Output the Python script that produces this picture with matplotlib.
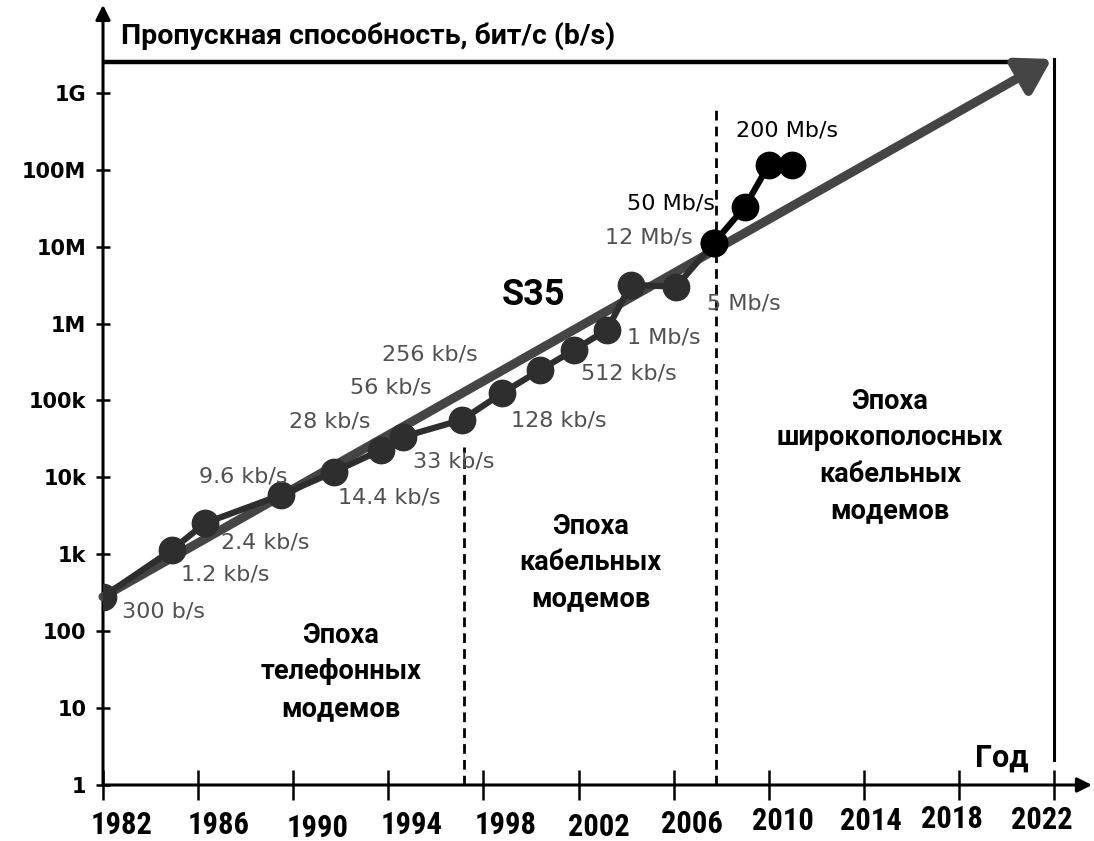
import matplotlib
import numpy as np
from matplotlib import pyplot as plt
from matplotlib.transforms import ScaledTranslation

matplotlib.use('Agg')

# данные модемов (серые точки)
years_old = [1982, 1984.9, 1986.3, 1989.5, 1991.7, 1993.7, 1994.6, 1997.1,
             1998.8, 2000.4, 2001.8, 2003.2, 2004.2, 2006.1]
speed_old = [280, 1.14e3, 2.55e3, 5.9e3, 1.17e4, 2.27e4, 3.35e4, 5.6e4,
             1.25e5, 2.5e5, 4.5e5, 8.3e5, 3.2e6, 3.0e6]
# широкополосные кабельные модемы (чёрные точки)
years_new = [2007.7, 2009.0, 2010.0, 2011.0]
speed_new = [1.12e7, 3.3e7, 1.15e8, 1.15e8]

# тренд S35
trend_years = [1982, 2021.9]
trend_speed = [280, 2.75e9]

# подписи: (серия, индекс точки, текст, смещение в пикселях, выравнивание)
labels = [
    ("old", 0, "300 b/s", (19, -15), "left"),
    ("old", 1, "1.2 kb/s", (9, -25), "left"),
    ("old", 2, "2.4 kb/s", (16, -20), "left"),
    ("old", 3, "9.6 kb/s", (-82, 18), "left"),
    ("old", 4, "14.4 kb/s", (4, -25), "left"),
    ("old", 5, "28 kb/s", (-92, 28), "left"),
    ("old", 6, "56 kb/s", (-53, 49), "left"),
    ("old", 6, "33 kb/s", (10, -25), "left"),
    ("old", 7, "256 kb/s", (-80, 65), "left"),
    ("old", 8, "128 kb/s", (9, -28), "left"),
    ("old", 10, "512 kb/s", (7, -23), "left"),
    ("old", 11, "1 Mb/s", (20, -8), "left"),
    ("old", 13, "5 Mb/s", (31, -17), "left"),
    ("new", 0, "12 Mb/s", (-21, 5), "right"),
    ("new", 1, "50 Mb/s", (-30, 3), "right"),
    ("new", 2, "200 Mb/s", (-33, 35), "left"),
]

year_ticks = [1982, 1986, 1990, 1994, 1998, 2002, 2006, 2010, 2014, 2018, 2022]
# сдвиг подписей годов относительно делений (пиксели), как в оригинале
label_dx = [19, 21, 24, 23, 22, 20, 18, 14, 7, -7, -12]
label_dy = [40, 40, 43, 40, 40, 42, 39, 36, 36, 34, 35]

speed_ticks = [1, 10, 100, 1e3, 1e4, 1e5, 1e6, 1e7, 1e8, 1e9]
speed_names = ["1", "10", "100", "1k", "10k", "100k", "1M", "10M", "100M", "1G"]

era_bounds = [1997.2, 2007.8]
era_tops = [10 ** 4.40, 10 ** 8.84]

fig = plt.figure(figsize=(10.94, 8.41), dpi=100)
ax = fig.add_axes([103 / 1094, 1 - 785 / 841, 951 / 1094, 723 / 841])
ax.set_yscale('log')
ax.set_xlim(1982, 2022)
ax.set_ylim(1, 10 ** 9.40)
for s in ax.spines.values():
    s.set_visible(False)

narrow = ['Roboto Condensed', 'Liberation Sans Narrow', 'DejaVu Sans']
bold_font = ['Roboto', 'DejaVu Sans']

# оси со стрелками
ax.annotate("", xy=(0, 1.079), xytext=(0, 0), xycoords='axes fraction',
            arrowprops=dict(arrowstyle='-|>', lw=2.2, color='black',
                            mutation_scale=22, shrinkA=0, shrinkB=0))
ax.annotate("", xy=(1.040, 0), xytext=(0, 0), xycoords='axes fraction',
            arrowprops=dict(arrowstyle='-|>', lw=2.2, color='black',
                            mutation_scale=22, shrinkA=0, shrinkB=0))
ax.plot([0, 0.963], [1, 1], transform=ax.transAxes, color='black', lw=3.2,
        clip_on=False, solid_capstyle='butt')
ax.plot([1, 1], [1.004, 0.034], transform=ax.transAxes, color='black', lw=2.2,
        clip_on=False)

ax.set_xticks(year_ticks)
ax.set_xticklabels([])
for yr, dx, dy in zip(year_ticks, label_dx, label_dy):
    tr = ax.get_xaxis_transform() + ScaledTranslation(dx / 100, -dy / 100, fig.dpi_scale_trans)
    ax.text(yr, 0, str(yr), transform=tr, ha='center', va='center', fontsize=22,
            fontweight='bold', family=narrow)
ax.set_yticks(speed_ticks)
ax.set_yticklabels(speed_names, fontsize=15, fontweight='bold')
ax.yaxis.set_minor_locator(matplotlib.ticker.NullLocator())
ax.tick_params(axis='x', direction='inout', length=22, width=1.8)
ax.tick_params(axis='y', direction='inout', length=10, width=1.8, pad=7)

# границы эпох
for xb, top in zip(era_bounds, era_tops):
    ax.vlines(xb, 1, top, colors='black', linestyles=(0, (3.5, 2.2)), lw=2)

# тренд
ax.annotate("", xy=(trend_years[1], trend_speed[1]),
            xytext=(trend_years[0], trend_speed[0]), xycoords='data',
            arrowprops=dict(arrowstyle='-|>,head_length=0.9,head_width=0.55', lw=6.5,
                            color='#454545', mutation_scale=22, shrinkA=0, shrinkB=0),
            annotation_clip=False)

ax.plot(years_old + years_new[:1], speed_old + speed_new[:1], color='#2e2e2e', lw=4.5,
        marker='o', markersize=19, zorder=3)
ax.plot(years_new, speed_new, color='black', lw=4.5, marker='o', markersize=19, zorder=4)

series = {"old": (years_old, speed_old), "new": (years_new, speed_new)}
for name, i, text, off, ha in labels:
    xs, ys = series[name]
    col = 'black' if text in ("50 Mb/s", "200 Mb/s") else '#505050'
    ax.annotate(text, xy=(xs[i], ys[i]), xytext=off, textcoords='offset pixels',
                ha=ha, va='center', fontsize=16, color=col, zorder=5)

ax.text(2000.1, 10 ** 6.37, "S35", fontsize=26, fontweight='bold', ha='center', va='center',
        family=bold_font, fontstretch='normal')

era_font = dict(fontsize=19.5, fontweight='bold', ha='center', va='center',
                family=bold_font, fontstretch='normal', linespacing=1.45)
ax.text(1992.0, 10 ** 1.47, "Эпоха\nтелефонных\nмодемов", **era_font)
ax.text(2002.5, 10 ** 2.89, "Эпоха\nкабельных\nмодемов", **era_font)
ax.text(2015.1, 10 ** 4.28, "Эпоха\nширокополосных\nкабельных\nмодемов", **era_font)
ax.text(2019.8, 10 ** 0.36, "Год", fontsize=22, fontweight='bold', ha='center', va='center',
        family=bold_font, fontstretch='normal')

fig.text(121 / 1094, 1 - 36 / 841, "Пропускная способность, бит/с (b/s)", fontsize=20.5,
         fontweight='bold', ha='left', va='center', family=bold_font, fontstretch='normal')

plt.savefig("out.png", dpi=100)
